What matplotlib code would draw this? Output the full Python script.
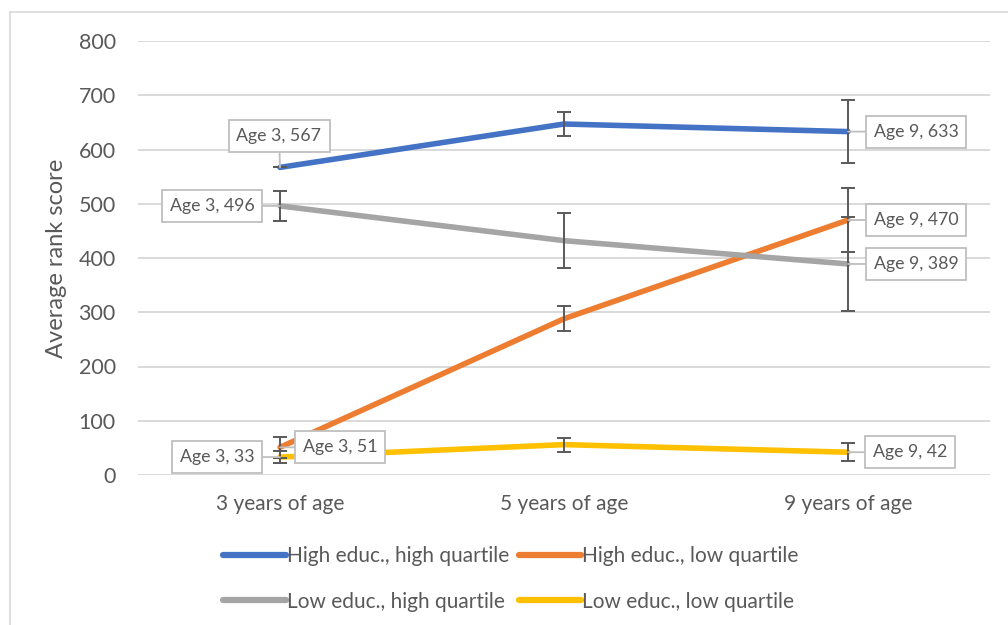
import matplotlib.pyplot as plt
from matplotlib.lines import Line2D

plt.rcParams['font.family'] = ['Lato', 'DejaVu Sans']

# chart values
ages = ["3 years of age", "5 years of age", "9 years of age"]
series_names = ["High educ., high quartile", "High educ., low quartile",
                "Low educ., high quartile", "Low educ., low quartile"]
high_high = [567, 647, 633]
high_low = [51, 288, 470]
low_high = [496, 432, 389]
low_low = [33, 56, 42]
err_high_high = [0, 22, 58]
err_high_low = [19, 23, 59]
err_low_high = [27, 51, 87]
err_low_low = [11, 13, 17]
colors = ["#4472c4", "#ed7d31", "#a5a5a5", "#ffc000"]

# callout labels: (series values, point index, offset in pixels)
callouts = [
    (high_high, 0, (-1, 31)),
    (low_high, 0, (-68, 0)),
    (low_low, 0, (-63, 0)),
    (high_low, 0, (60, 0)),
    (high_high, 2, (68, 0)),
    (high_low, 2, (68, 0)),
    (low_high, 2, (68, 0)),
    (low_low, 2, (62, 0)),
]

fig = plt.figure(figsize=(10.08, 6.25), dpi=100)
ax = fig.add_axes([138 / 1008, 1 - 475 / 625, 852 / 1008, 434 / 625])

x = list(range(len(ages)))
all_vals = [high_high, high_low, low_high, low_low]
all_errs = [err_high_high, err_high_low, err_low_high, err_low_low]
handles = []
for vals, errs, c, name in zip(all_vals, all_errs, colors, series_names):
    h, = ax.plot(x, vals, color=c, lw=4.0, solid_capstyle='round', zorder=3, label=name)
    handles.append(h)
for vals, errs in zip(all_vals, all_errs):
    ax.errorbar(x, vals, yerr=errs, fmt='none', ecolor='#595959', elinewidth=1.4,
                capsize=5, capthick=1.4, zorder=4)

for vals, i, off in callouts:
    ax.annotate(f"Age {[3, 5, 9][i]}, {vals[i]}", xy=(x[i], vals[i]), xytext=off,
                textcoords='offset pixels', ha='center', va='center',
                fontsize=12.8, color='#595959', zorder=6,
                bbox=dict(boxstyle='square,pad=0.45', fc='white', ec='#bfbfbf', lw=1.3),
                arrowprops=dict(arrowstyle='-', color='#bfbfbf', lw=1.3,
                                shrinkA=0, shrinkB=0))

ax.set_xlim(-0.5, 2.5)
ax.set_ylim(0, 800)
ax.set_yticks(range(0, 801, 100))
ax.set_xticks(x)
ax.set_xticklabels(ages)
ax.tick_params(axis='both', length=0, labelcolor='#595959')
ax.tick_params(axis='x', pad=14, labelsize=15)
ax.tick_params(axis='y', pad=16, labelsize=15.5)
ax.grid(axis='y', color='#d9d9d9', lw=1.4)
ax.set_axisbelow(True)
for s in ax.spines.values():
    s.set_visible(False)
ax.set_ylabel("Average rank score", fontsize=17, color='#595959', labelpad=8)

# legend: row-wise ordering for 2 columns
order = [0, 2, 1, 3]
leg_handles = [Line2D([], [], color=colors[i], lw=4.5, solid_capstyle='round') for i in order]
fig.legend(leg_handles, [series_names[i] for i in order],
           ncol=2, loc='center', bbox_to_anchor=(511 / 1008, 1 - 579 / 625),
           frameon=False, fontsize=15, handlelength=3.0, handletextpad=0.05,
           columnspacing=0.45, labelspacing=1.2, labelcolor='#595959')

# chart area border (left and top edges visible)
fig.add_artist(Line2D([9.5 / 1008, 9.5 / 1008], [0, 1 - 12 / 625], color='#d9d9d9', lw=1.2))
fig.add_artist(Line2D([9.5 / 1008, 1], [1 - 12 / 625, 1 - 12 / 625], color='#d9d9d9', lw=1.2))

fig.savefig("out.png", dpi=100)
